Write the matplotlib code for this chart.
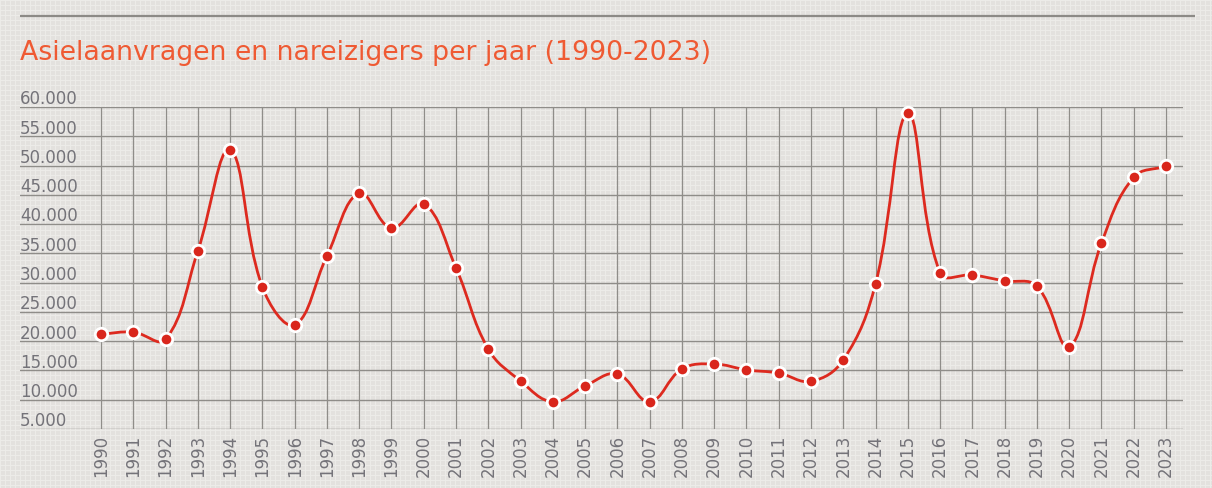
import numpy as np
import matplotlib
matplotlib.use("Agg")
import matplotlib.pyplot as plt
from matplotlib.path import Path
from matplotlib.patches import PathPatch

# ---- data ----
years = list(range(1990, 2024))
requests = [21200, 21550, 20300, 35400, 52700, 29250, 22800, 34550, 45300, 39300,
            43450, 32500, 18650, 13200, 9650, 12350, 14400, 9650, 15250, 16100,
            15100, 14550, 13150, 16800, 29800, 58900, 31650, 31300, 30300, 29400,
            19000, 36750, 48000, 49900]
y_ticks = list(range(5000, 60001, 5000))
y_tick_labels = [f"{v:,}".replace(",", ".") for v in y_ticks]
title = "Asielaanvragen en nareizigers per jaar (1990-2023)"

W, H = 1212, 488
fig = plt.figure(figsize=(W / 100, H / 100), dpi=100)

# background pattern (graph paper)
bg = fig.add_axes([0, 0, 1, 1], zorder=-10)
base = np.array([0.893, 0.886, 0.872])
light = np.array([0.928, 0.923, 0.913])
img = np.tile(base, (H, W, 1))
yy, xx = np.mgrid[0:H, 0:W]
mask = (xx % 5 == 0) | (yy % 5 == 0)
img[mask] = light
bg.imshow(img, aspect="auto", interpolation="nearest", extent=[0, W, H, 0])
bg.set_xlim(0, W)
bg.set_ylim(H, 0)
bg.axis("off")
# top rule
bg.plot([20, 1195], [16, 16], color="#8c8a86", lw=1.6, solid_capstyle="butt")
bg.text(20, 53, title, color="#ef5a33", fontsize=19.3, va="center", ha="left",
        family="DejaVu Sans")

# main axes
left, right, top, bottom = 20, 1183, 107, 429
ax = fig.add_axes([left / W, (H - bottom) / H, (right - left) / W, (bottom - top) / H])
ax.patch.set_alpha(0)
x0 = 1990 - 81 / 32.27
x1 = 2023 + 17 / 32.27
ax.set_xlim(x0, x1)
ax.set_ylim(5000, 60000)
for s in ax.spines.values():
    s.set_visible(False)
ax.set_xticks(years)
ax.set_yticks(y_ticks)
ax.tick_params(length=0)
ax.set_yticklabels([])
ax.set_xticklabels([])

gcol = "#8f8d89"
for v in y_ticks:
    ax.axhline(v, color=gcol, lw=1.0, zorder=1)
for yr in years:
    ax.plot([yr, yr], [5000, 60000], color=gcol, lw=0.9, zorder=1)

lab_col = "#747379"
for v, lab in zip(y_ticks, y_tick_labels):
    ax.annotate(lab, xy=(x0, v), xytext=(0, 2.6), textcoords="offset pixels",
                ha="left", va="baseline", fontsize=12, color=lab_col)
for yr in years:
    ax.annotate(str(yr), xy=(yr, 5000), xytext=(0, -6), textcoords="offset pixels",
                ha="center", va="top", rotation=90, fontsize=12, color=lab_col)

# smooth line (Chart.js-style spline, tension 0.4, in pixel space)
fig.canvas.draw()
pts = ax.transData.transform(np.column_stack([years, requests]))
t = 0.4
n = len(pts)
verts = [pts[0]]
codes = [Path.MOVETO]
cps_prev, cps_next = [None] * n, [None] * n
for i in range(n):
    p = pts[i]
    pr = pts[i - 1] if i > 0 else p
    nx = pts[i + 1] if i < n - 1 else p
    d01 = np.hypot(*(p - pr))
    d12 = np.hypot(*(nx - p))
    s01 = d01 / (d01 + d12) if (d01 + d12) else 0
    s12 = d12 / (d01 + d12) if (d01 + d12) else 0
    fa, fb = t * s01, t * s12
    cps_prev[i] = p - fa * (nx - pr)
    cps_next[i] = p + fb * (nx - pr)
for i in range(1, n):
    verts += [cps_next[i - 1], cps_prev[i], pts[i]]
    codes += [Path.CURVE4] * 3
inv = ax.transData.inverted()
verts_data = inv.transform(np.array(verts))
path = Path(verts_data, codes)
ax.add_patch(PathPatch(path, facecolor="none", edgecolor="#dd2a1f", lw=2.0, zorder=3))
ax.plot(years, requests, "o", ms=9, mfc="#d9261c", mec="white", mew=2.0, zorder=4,
        clip_on=False)

fig.savefig("out.png", dpi=100)
